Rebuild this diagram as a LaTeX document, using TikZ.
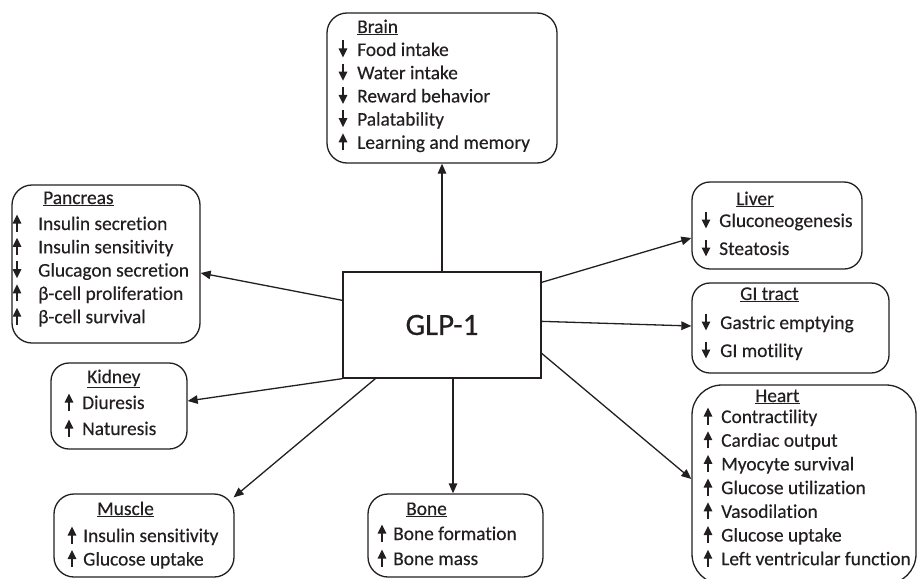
\documentclass[tikz,border=0pt]{standalone}
\usepackage{fontspec}
\setmainfont{Carlito}[Ligatures=NoCommon, FakeBold=0.35]
\usetikzlibrary{arrows.meta}
\definecolor{ink}{HTML}{231F20}
\newcommand\glpitems[6]{%
  \foreach[count=\i] \s/\t in {#6}{%
    \pgfmathsetmacro\bb{#4+(\i-1)*#5}
    \node[item, anchor=base west] (#1-\i) at (#3,\bb) {\t};
    \draw[symarr] ({#2},{\bb-7+8.5*(\s)}) -- ({#2},{\bb-7-8.5*(\s)});
  }}
\begin{document}
\begin{tikzpicture}[x=1pt,y=-1pt,
  box/.style={draw=ink, line width=1.3pt, rounded corners=20pt, inner sep=0pt},
  conn/.style={draw=ink, line width=1.3pt, -{Triangle[length=10pt,width=8.5pt]}},
  symarr/.style={draw=ink, line width=1.4pt, -{Triangle[length=9pt,width=8.5pt]}},
  item/.style={inner sep=0pt, text=ink, font=\fontsize{19.4}{23}\selectfont}]
\useasboundingbox (0,0) rectangle (917,578);
\clip (0,0) rectangle (917,578);
% central box
\node[draw=ink, line width=1.3pt, minimum width=198pt, minimum height=106pt, inner sep=0pt,
      text=ink, font=\fontsize{31}{36}\selectfont] (glp) at (442,325) {GLP-1};
% boxes
\node[box, minimum width=230pt, minimum height=150pt] (brain) at (442,88) {};
\node[box, minimum width=188pt, minimum height=158pt] (pan) at (106,264) {};
\node[box, minimum width=170pt, minimum height=87pt, rounded corners=18pt] (liver) at (777,225.5) {};
\node[box, minimum width=197pt, minimum height=90pt, rounded corners=18pt] (gi) at (790.5,328) {};
\node[box, minimum width=224pt, minimum height=199pt, rounded corners=30pt] (heart) at (804,484.5) {};
\node[box, minimum width=136pt, minimum height=86pt, rounded corners=18pt] (kidney) at (119,406) {};
\node[box, minimum width=180pt, minimum height=83pt] (muscle) at (144,535.5) {};
\node[box, minimum width=175pt, minimum height=83pt] (bone) at (455.5,535.5) {};
% titles
\node[item, anchor=base west] (brain-t) at (357,33) {\underline{Brain}};
\node[item, anchor=base west] (pan-t) at (43,204) {\underline{Pancreas}};
\node[item, anchor=base west] (liver-t) at (736,205) {\underline{Liver}};
\node[item, anchor=base west] (gi-t) at (740,300) {\underline{GI tract}};
\node[item, anchor=base west] (heart-t) at (755,402) {\underline{Heart}};
\node[item, anchor=base west] (kidney-t) at (87,383) {\underline{Kidney}};
\node[item, anchor=base west] (muscle-t) at (97,515) {\underline{Muscle}};
\node[item, anchor=base west] (bone-t) at (406,515) {\underline{Bone}};
% items
\glpitems{brain}{343}{357}{56}{23.2}{-1/Food intake,-1/Water intake,-1/Reward behavior,-1/Palatability,1/Learning and memory}
\glpitems{pan}{17}{38}{230}{23.3}{1/Insulin secretion,1/Insulin sensitivity,-1/Glucagon secretion,1/β-cell proliferation,1/β-cell survival}
\glpitems{liver}{706}{719}{227}{28}{-1/Gluconeogenesis,-1/Steatosis}
\glpitems{gi}{706}{720}{329}{28}{-1/Gastric emptying,-1/GI motility}
\glpitems{heart}{708}{721}{423}{23.7}{1/Contractility,1/Cardiac output,1/Myocyte survival,1/Glucose utilization,1/Vasodilation,1/Glucose uptake,1/Left ventricular function}
\glpitems{kidney}{69}{82}{409}{26}{1/Diuresis,1/Naturesis}
\glpitems{muscle}{72}{83}{542}{23.5}{1/Insulin sensitivity,1/Glucose uptake}
\glpitems{bone}{382}{393}{540}{25}{1/Bone formation,1/Bone mass}
% connectors
\draw[conn] (glp.north) -- (brain.south);
\draw[conn] ([xshift=11pt]glp.south) -- ([xshift=-2.5pt]bone.north);
\draw[conn] ([yshift=-11pt]glp.north east) -- ([yshift=-12.5pt]liver.west);
\draw[conn] ([yshift=-50pt]glp.north east) -- ([yshift=2pt]gi.west);
\draw[conn] ([yshift=-82pt]glp.north east) -- ([yshift=5.5pt]heart.west);
\draw[conn] ([yshift=-29pt]glp.north west) -- ([yshift=-9pt]pan.east);
\draw[conn] (glp.south west) -- ([yshift=5pt]kidney.east);
\draw[conn] ([xshift=33pt]glp.south west) -- ([xshift=-1pt,yshift=-4pt]muscle.north east);
\end{tikzpicture}
\end{document}
